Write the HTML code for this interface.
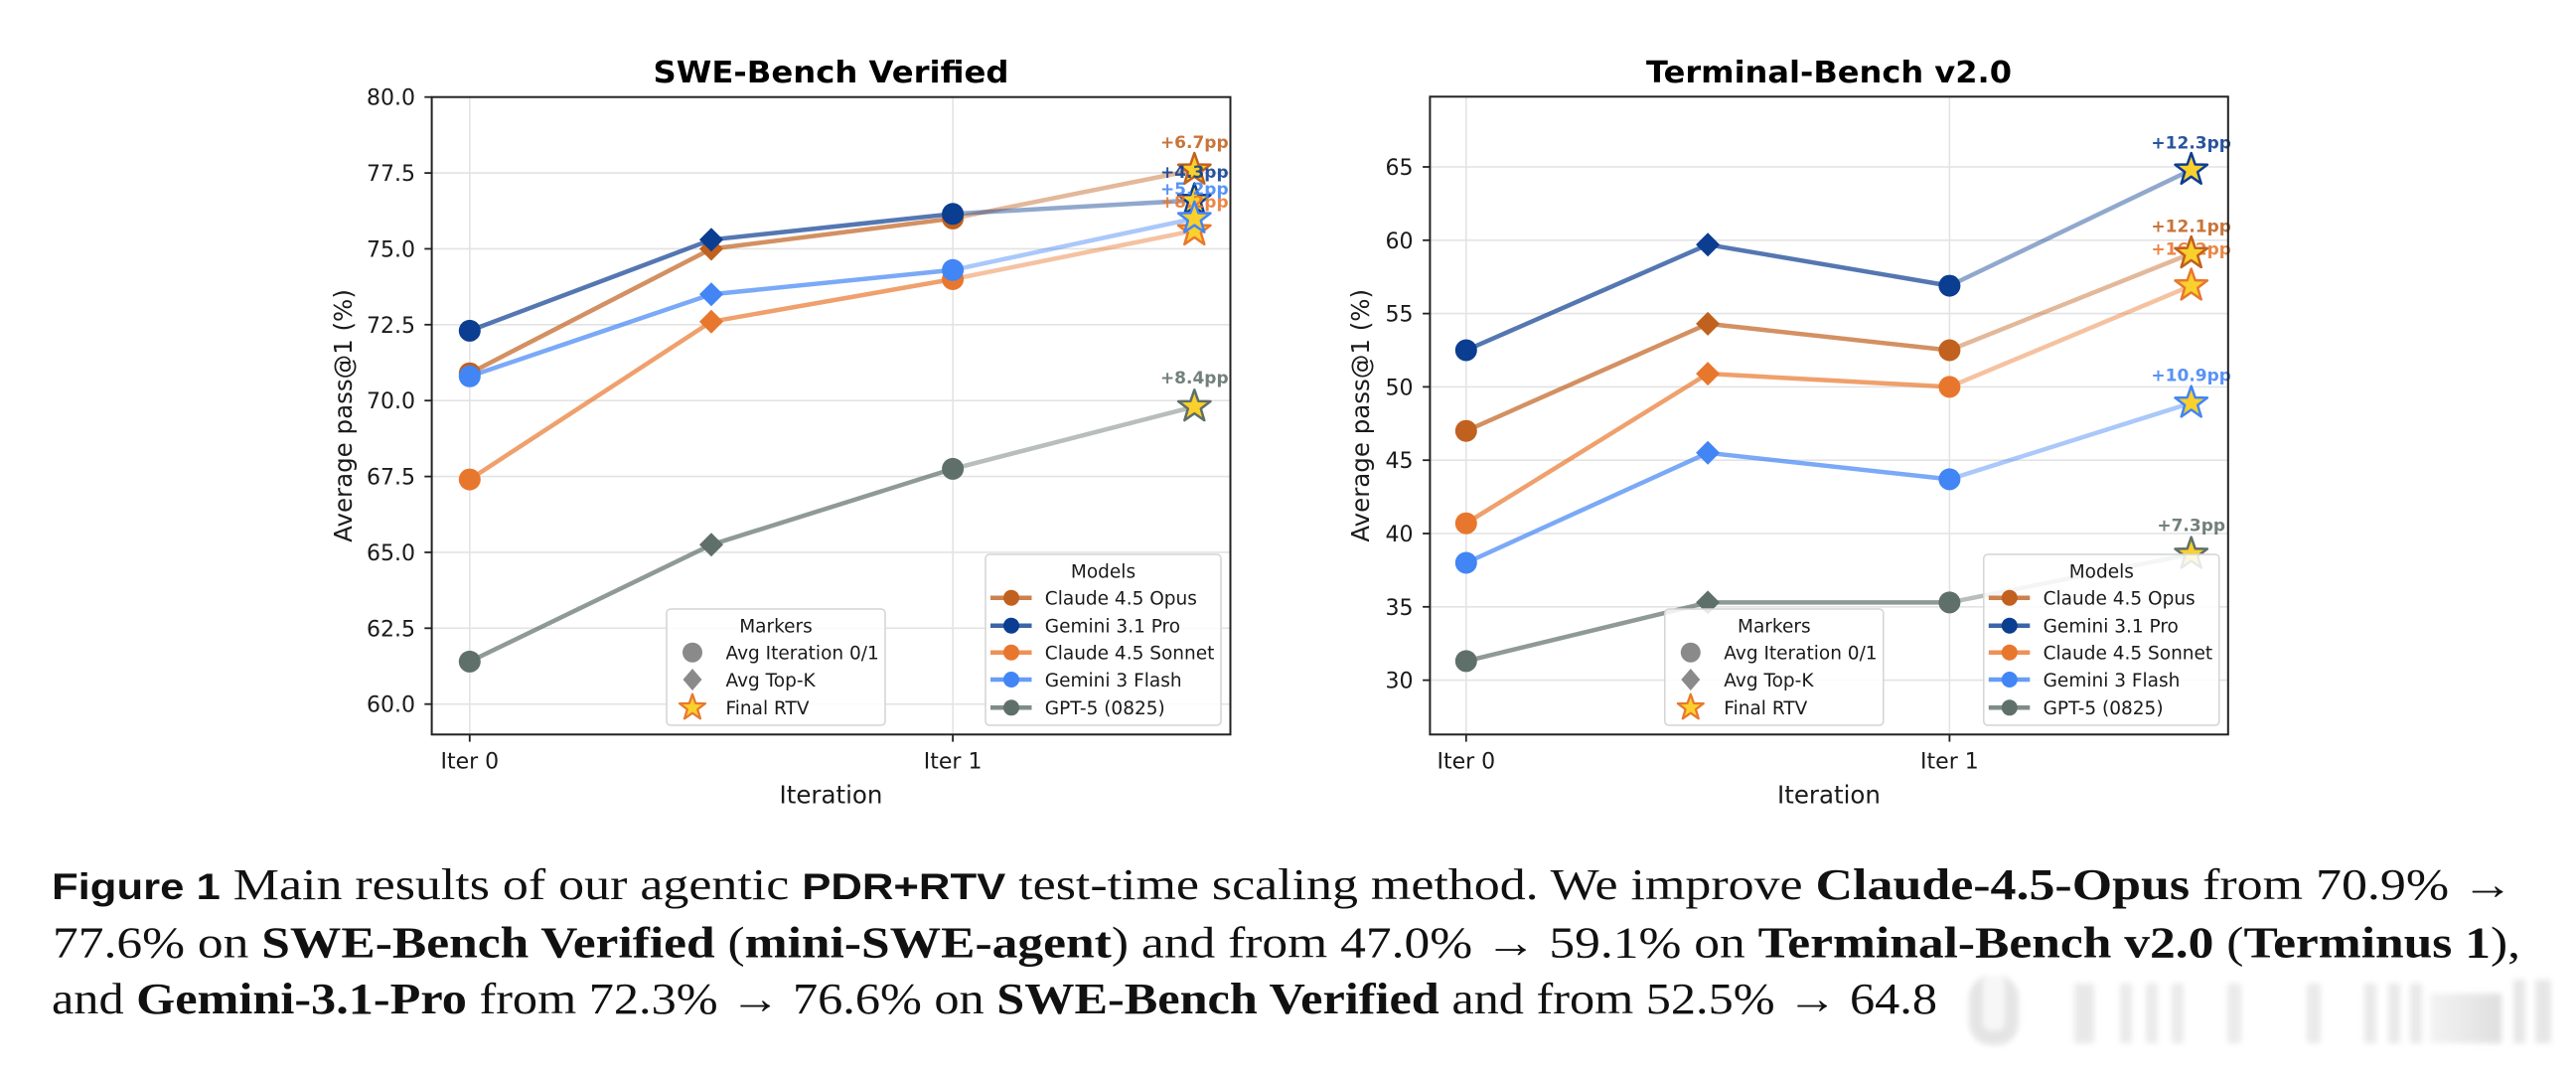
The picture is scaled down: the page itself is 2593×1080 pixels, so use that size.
<!DOCTYPE html>
<html>
<head>
<meta charset="utf-8">
<style>
  html,body{margin:0;padding:0;background:#ffffff;}
  svg{display:block;}
  .tick{font-family:"DejaVu Sans","Liberation Sans",sans-serif;font-size:22px;fill:#1a1a1a;}
  .lab{font-family:"DejaVu Sans","Liberation Sans",sans-serif;font-size:24.5px;fill:#1a1a1a;}
  .ttl{font-family:"DejaVu Sans","Liberation Sans",sans-serif;font-size:30px;font-weight:bold;fill:#000;}
  .leg{font-family:"DejaVu Sans","Liberation Sans",sans-serif;font-size:18.5px;fill:#1a1a1a;}
  .ann{font-family:"DejaVu Sans","Liberation Sans",sans-serif;font-size:17px;font-weight:bold;opacity:.88;}
  .cap{font-family:"Liberation Serif",serif;font-size:44px;fill:#111;}
  .bs{font-family:"Liberation Sans",sans-serif;font-weight:bold;font-size:37px;}
  .bf{font-weight:bold;}
</style>
</head>
<body>
<svg width="2593" height="1080" viewBox="0 0 2593 1080" xmlns="http://www.w3.org/2000/svg">
  <defs>
    <filter id="blur" x="-20%" y="-20%" width="140%" height="140%"><feGaussianBlur stdDeviation="3"/></filter>
    <linearGradient id="gblk" x1="0" x2="1" y1="0" y2="0">
      <stop offset="0" stop-color="#f2f2f2"/><stop offset="1" stop-color="#dcdcdc"/>
    </linearGradient>
  </defs>
  <rect width="2593" height="1080" fill="#ffffff"/>

  <!-- ================= LEFT CHART: SWE-Bench Verified ================= -->
  <g>
    <!-- grid -->
    <g stroke="#e3e3e3" stroke-width="1.6">
      <line x1="434.6" y1="174.1" x2="1238.5" y2="174.1"/>
      <line x1="434.6" y1="250.45" x2="1238.5" y2="250.45"/>
      <line x1="434.6" y1="326.8" x2="1238.5" y2="326.8"/>
      <line x1="434.6" y1="403.2" x2="1238.5" y2="403.2"/>
      <line x1="434.6" y1="479.6" x2="1238.5" y2="479.6"/>
      <line x1="434.6" y1="555.95" x2="1238.5" y2="555.95"/>
      <line x1="434.6" y1="632.3" x2="1238.5" y2="632.3"/>
      <line x1="434.6" y1="708.7" x2="1238.5" y2="708.7"/>
      <line x1="472.8" y1="97.7" x2="472.8" y2="739.3"/>
      <line x1="959.1" y1="97.7" x2="959.1" y2="739.3"/>
    </g>

    <!-- Opus -->
    <g>
      <polyline points="472.8,375.7 716,250.5 959.1,219.9" fill="none" stroke="#C1611F" stroke-width="4.5" stroke-opacity=".7" stroke-linejoin="round"/>
      <line x1="959.1" y1="219.9" x2="1202.3" y2="171.0" stroke="#C1611F" stroke-width="4.5" stroke-opacity=".45"/>
      <circle cx="472.8" cy="375.7" r="11" fill="#C1611F"/>
      <circle cx="959.1" cy="219.9" r="11" fill="#C1611F"/>
      <polygon transform="translate(716,250.5)" points="0,-12 12,0 0,12 -12,0" fill="#C1611F"/>
      <polygon transform="translate(1202.3,171.0)" points="0,-17 4,-5.5 16.17,-5.25 6.47,2.1 9.99,13.75 0,6.8 -9.99,13.75 -6.47,2.1 -16.17,-5.25 -4,-5.5" fill="#FAD02C" stroke="#C1611F" stroke-width="2.5" stroke-linejoin="round"/>
      <text class="ann" x="1202.3" y="149" text-anchor="middle" fill="#C1611F">+6.7pp</text>
    </g>
    <!-- Gemini 3.1 Pro -->
    <g>
      <polyline points="472.8,332.9 716,241.3 959.1,215.3" fill="none" stroke="#0B3D91" stroke-width="4.5" stroke-opacity=".7" stroke-linejoin="round"/>
      <line x1="959.1" y1="215.3" x2="1202.3" y2="201.6" stroke="#0B3D91" stroke-width="4.5" stroke-opacity=".45"/>
      <circle cx="472.8" cy="332.9" r="11" fill="#0B3D91"/>
      <circle cx="959.1" cy="215.3" r="11" fill="#0B3D91"/>
      <polygon transform="translate(716,241.3)" points="0,-12 12,0 0,12 -12,0" fill="#0B3D91"/>
      <polygon transform="translate(1202.3,201.6)" points="0,-17 4,-5.5 16.17,-5.25 6.47,2.1 9.99,13.75 0,6.8 -9.99,13.75 -6.47,2.1 -16.17,-5.25 -4,-5.5" fill="#FAD02C" stroke="#0B3D91" stroke-width="2.5" stroke-linejoin="round"/>
      <text class="ann" x="1202.3" y="179" text-anchor="middle" fill="#0B3D91">+4.3pp</text>
    </g>
    <!-- Sonnet -->
    <g>
      <polyline points="472.8,482.6 716,323.8 959.1,281.0" fill="none" stroke="#E8772E" stroke-width="4.5" stroke-opacity=".7" stroke-linejoin="round"/>
      <line x1="959.1" y1="281.0" x2="1202.3" y2="232.1" stroke="#E8772E" stroke-width="4.5" stroke-opacity=".45"/>
      <circle cx="472.8" cy="482.6" r="11" fill="#E8772E"/>
      <circle cx="959.1" cy="281.0" r="11" fill="#E8772E"/>
      <polygon transform="translate(716,323.8)" points="0,-12 12,0 0,12 -12,0" fill="#E8772E"/>
      <polygon transform="translate(1202.3,232.1)" points="0,-17 4,-5.5 16.17,-5.25 6.47,2.1 9.99,13.75 0,6.8 -9.99,13.75 -6.47,2.1 -16.17,-5.25 -4,-5.5" fill="#FAD02C" stroke="#E8772E" stroke-width="2.5" stroke-linejoin="round"/>
      <text class="ann" x="1202.3" y="209" text-anchor="middle" fill="#E8772E">+8.2pp</text>
    </g>
    <!-- Gemini 3 Flash -->
    <g>
      <polyline points="472.8,378.8 716,296.3 959.1,271.8" fill="none" stroke="#4285F4" stroke-width="4.5" stroke-opacity=".7" stroke-linejoin="round"/>
      <line x1="959.1" y1="271.8" x2="1202.3" y2="219.9" stroke="#4285F4" stroke-width="4.5" stroke-opacity=".45"/>
      <circle cx="472.8" cy="378.8" r="11" fill="#4285F4"/>
      <circle cx="959.1" cy="271.8" r="11" fill="#4285F4"/>
      <polygon transform="translate(716,296.3)" points="0,-12 12,0 0,12 -12,0" fill="#4285F4"/>
      <polygon transform="translate(1202.3,219.9)" points="0,-17 4,-5.5 16.17,-5.25 6.47,2.1 9.99,13.75 0,6.8 -9.99,13.75 -6.47,2.1 -16.17,-5.25 -4,-5.5" fill="#FAD02C" stroke="#4285F4" stroke-width="2.5" stroke-linejoin="round"/>
      <text class="ann" x="1202.3" y="196" text-anchor="middle" fill="#4285F4">+5.2pp</text>
    </g>
    <!-- GPT-5 -->
    <g>
      <polyline points="472.8,665.9 716,548.3 959.1,471.9" fill="none" stroke="#5F6F69" stroke-width="4.5" stroke-opacity=".7" stroke-linejoin="round"/>
      <line x1="959.1" y1="471.9" x2="1202.3" y2="409.3" stroke="#5F6F69" stroke-width="4.5" stroke-opacity=".45"/>
      <circle cx="472.8" cy="665.9" r="11" fill="#5F6F69"/>
      <circle cx="959.1" cy="471.9" r="11" fill="#5F6F69"/>
      <polygon transform="translate(716,548.3)" points="0,-12 12,0 0,12 -12,0" fill="#5F6F69"/>
      <polygon transform="translate(1202.3,409.3)" points="0,-17 4,-5.5 16.17,-5.25 6.47,2.1 9.99,13.75 0,6.8 -9.99,13.75 -6.47,2.1 -16.17,-5.25 -4,-5.5" fill="#FAD02C" stroke="#5F6F69" stroke-width="2.5" stroke-linejoin="round"/>
      <text class="ann" x="1202.3" y="386" text-anchor="middle" fill="#5F6F69">+8.4pp</text>
    </g>

    <!-- Legends -->
    <g>
      <rect x="671" y="613" width="220" height="117" rx="4" fill="#ffffff" fill-opacity=".85" stroke="#d4d4d4" stroke-width="1.5"/>
      <text class="leg" x="781" y="636.5" text-anchor="middle">Markers</text>
      <circle cx="697" cy="656.7" r="10" fill="#8a8a8a"/>
      <text class="leg" x="730.5" y="663.5">Avg Iteration 0/1</text>
      <polygon transform="translate(697,684)" points="0,-11 9.5,0 0,11 -9.5,0" fill="#8a8a8a"/>
      <text class="leg" x="730.5" y="691">Avg Top-K</text>
      <polygon transform="translate(697,712.3) scale(0.8)" points="0,-17 4,-5.5 16.17,-5.25 6.47,2.1 9.99,13.75 0,6.8 -9.99,13.75 -6.47,2.1 -16.17,-5.25 -4,-5.5" fill="#FAD02C" stroke="#E8772E" stroke-width="2.8" stroke-linejoin="round"/>
      <text class="leg" x="730.5" y="719">Final RTV</text>

      <rect x="992" y="558" width="237" height="172" rx="4" fill="#ffffff" fill-opacity=".85" stroke="#d4d4d4" stroke-width="1.5"/>
      <text class="leg" x="1110.5" y="581.5" text-anchor="middle">Models</text>
      <line x1="997" y1="601.7" x2="1038.5" y2="601.7" stroke="#C1611F" stroke-width="4.5" stroke-opacity=".8"/>
      <circle cx="1018" cy="601.7" r="8" fill="#C1611F"/>
      <text class="leg" x="1051.8" y="608.5">Claude 4.5 Opus</text>
      <line x1="997" y1="629.7" x2="1038.5" y2="629.7" stroke="#0B3D91" stroke-width="4.5" stroke-opacity=".8"/>
      <circle cx="1018" cy="629.7" r="8" fill="#0B3D91"/>
      <text class="leg" x="1051.8" y="636.5">Gemini 3.1 Pro</text>
      <line x1="997" y1="656.7" x2="1038.5" y2="656.7" stroke="#E8772E" stroke-width="4.5" stroke-opacity=".8"/>
      <circle cx="1018" cy="656.7" r="8" fill="#E8772E"/>
      <text class="leg" x="1051.8" y="663.5">Claude 4.5 Sonnet</text>
      <line x1="997" y1="684" x2="1038.5" y2="684" stroke="#4285F4" stroke-width="4.5" stroke-opacity=".8"/>
      <circle cx="1018" cy="684" r="8" fill="#4285F4"/>
      <text class="leg" x="1051.8" y="691">Gemini 3 Flash</text>
      <line x1="997" y1="712.3" x2="1038.5" y2="712.3" stroke="#5F6F69" stroke-width="4.5" stroke-opacity=".8"/>
      <circle cx="1018" cy="712.3" r="8" fill="#5F6F69"/>
      <text class="leg" x="1051.8" y="719">GPT-5 (0825)</text>
    </g>

    <!-- spines -->
    <rect x="434.6" y="97.7" width="803.9" height="641.6" fill="none" stroke="#222" stroke-width="2"/>
    <!-- ticks -->
    <g stroke="#222" stroke-width="1.8">
      <line x1="427.3" y1="97.7" x2="434.6" y2="97.7"/>
      <line x1="427.3" y1="174.1" x2="434.6" y2="174.1"/>
      <line x1="427.3" y1="250.45" x2="434.6" y2="250.45"/>
      <line x1="427.3" y1="326.8" x2="434.6" y2="326.8"/>
      <line x1="427.3" y1="403.2" x2="434.6" y2="403.2"/>
      <line x1="427.3" y1="479.6" x2="434.6" y2="479.6"/>
      <line x1="427.3" y1="555.95" x2="434.6" y2="555.95"/>
      <line x1="427.3" y1="632.3" x2="434.6" y2="632.3"/>
      <line x1="427.3" y1="708.7" x2="434.6" y2="708.7"/>
      <line x1="472.8" y1="739.3" x2="472.8" y2="746.6"/>
      <line x1="959.1" y1="739.3" x2="959.1" y2="746.6"/>
    </g>
    <g class="tick" text-anchor="end">
      <text x="418" y="105.7">80.0</text>
      <text x="418" y="182.1">77.5</text>
      <text x="418" y="258.45">75.0</text>
      <text x="418" y="334.8">72.5</text>
      <text x="418" y="411.2">70.0</text>
      <text x="418" y="487.6">67.5</text>
      <text x="418" y="563.95">65.0</text>
      <text x="418" y="640.3">62.5</text>
      <text x="418" y="716.7">60.0</text>
    </g>
    <g class="tick" text-anchor="middle">
      <text x="472.8" y="773.3">Iter 0</text>
      <text x="959.1" y="773.3">Iter 1</text>
    </g>
    <text class="lab" x="836.5" y="808.3" text-anchor="middle">Iteration</text>
    <text class="lab" transform="translate(354,418.5) rotate(-90)" text-anchor="middle">Average pass@1 (%)</text>
    <text class="ttl" x="836.5" y="83" text-anchor="middle" textLength="358" lengthAdjust="spacingAndGlyphs">SWE-Bench Verified</text>
  </g>

  <!-- ================= RIGHT CHART: Terminal-Bench v2.0 ================= -->
  <g>
    <g stroke="#e3e3e3" stroke-width="1.6">
      <line x1="1439.4" y1="168" x2="2242.8" y2="168"/>
      <line x1="1439.4" y1="241.8" x2="2242.8" y2="241.8"/>
      <line x1="1439.4" y1="315.6" x2="2242.8" y2="315.6"/>
      <line x1="1439.4" y1="389.4" x2="2242.8" y2="389.4"/>
      <line x1="1439.4" y1="463.2" x2="2242.8" y2="463.2"/>
      <line x1="1439.4" y1="537" x2="2242.8" y2="537"/>
      <line x1="1439.4" y1="610.8" x2="2242.8" y2="610.8"/>
      <line x1="1439.4" y1="684.6" x2="2242.8" y2="684.6"/>
      <line x1="1475.8" y1="97.3" x2="1475.8" y2="739.3"/>
      <line x1="1962.4" y1="97.3" x2="1962.4" y2="739.3"/>
    </g>

    <!-- Opus -->
    <g>
      <polyline points="1475.8,433.7 1719.1,325.9 1962.4,352.5" fill="none" stroke="#C1611F" stroke-width="4.5" stroke-opacity=".7" stroke-linejoin="round"/>
      <line x1="1962.4" y1="352.5" x2="2205.7" y2="255.1" stroke="#C1611F" stroke-width="4.5" stroke-opacity=".45"/>
      <circle cx="1475.8" cy="433.7" r="11" fill="#C1611F"/>
      <circle cx="1962.4" cy="352.5" r="11" fill="#C1611F"/>
      <polygon transform="translate(1719.1,325.9)" points="0,-12 12,0 0,12 -12,0" fill="#C1611F"/>
      <polygon transform="translate(2205.7,255.1)" points="0,-17 4,-5.5 16.17,-5.25 6.47,2.1 9.99,13.75 0,6.8 -9.99,13.75 -6.47,2.1 -16.17,-5.25 -4,-5.5" fill="#FAD02C" stroke="#C1611F" stroke-width="2.5" stroke-linejoin="round"/>
      <text class="ann" x="2205.7" y="233.3" text-anchor="middle" fill="#C1611F">+12.1pp</text>
    </g>
    <!-- Pro -->
    <g>
      <polyline points="1475.8,352.5 1719.1,246.2 1962.4,287.6" fill="none" stroke="#0B3D91" stroke-width="4.5" stroke-opacity=".7" stroke-linejoin="round"/>
      <line x1="1962.4" y1="287.6" x2="2205.7" y2="171.0" stroke="#0B3D91" stroke-width="4.5" stroke-opacity=".45"/>
      <circle cx="1475.8" cy="352.5" r="11" fill="#0B3D91"/>
      <circle cx="1962.4" cy="287.6" r="11" fill="#0B3D91"/>
      <polygon transform="translate(1719.1,246.2)" points="0,-12 12,0 0,12 -12,0" fill="#0B3D91"/>
      <polygon transform="translate(2205.7,171.0)" points="0,-17 4,-5.5 16.17,-5.25 6.47,2.1 9.99,13.75 0,6.8 -9.99,13.75 -6.47,2.1 -16.17,-5.25 -4,-5.5" fill="#FAD02C" stroke="#0B3D91" stroke-width="2.5" stroke-linejoin="round"/>
      <text class="ann" x="2205.7" y="149.3" text-anchor="middle" fill="#0B3D91">+12.3pp</text>
    </g>
    <!-- Sonnet -->
    <g>
      <polyline points="1475.8,526.7 1719.1,376.1 1962.4,389.4" fill="none" stroke="#E8772E" stroke-width="4.5" stroke-opacity=".7" stroke-linejoin="round"/>
      <line x1="1962.4" y1="389.4" x2="2205.7" y2="287.6" stroke="#E8772E" stroke-width="4.5" stroke-opacity=".45"/>
      <circle cx="1475.8" cy="526.7" r="11" fill="#E8772E"/>
      <circle cx="1962.4" cy="389.4" r="11" fill="#E8772E"/>
      <polygon transform="translate(1719.1,376.1)" points="0,-12 12,0 0,12 -12,0" fill="#E8772E"/>
      <text class="ann" x="2205.7" y="256.7" text-anchor="middle" fill="#E8772E">+16.2pp</text>
      <polygon transform="translate(2205.7,287.6)" points="0,-17 4,-5.5 16.17,-5.25 6.47,2.1 9.99,13.75 0,6.8 -9.99,13.75 -6.47,2.1 -16.17,-5.25 -4,-5.5" fill="#FAD02C" stroke="#E8772E" stroke-width="2.5" stroke-linejoin="round"/>
    </g>
    <!-- Opus star redrawn on top of Sonnet label -->
    <polygon transform="translate(2205.7,255.1)" points="0,-17 4,-5.5 16.17,-5.25 6.47,2.1 9.99,13.75 0,6.8 -9.99,13.75 -6.47,2.1 -16.17,-5.25 -4,-5.5" fill="#FAD02C" stroke="#C1611F" stroke-width="2.5" stroke-linejoin="round"/>
    <!-- Flash -->
    <g>
      <polyline points="1475.8,566.5 1719.1,455.8 1962.4,482.4" fill="none" stroke="#4285F4" stroke-width="4.5" stroke-opacity=".7" stroke-linejoin="round"/>
      <line x1="1962.4" y1="482.4" x2="2205.7" y2="405.6" stroke="#4285F4" stroke-width="4.5" stroke-opacity=".45"/>
      <circle cx="1475.8" cy="566.5" r="11" fill="#4285F4"/>
      <circle cx="1962.4" cy="482.4" r="11" fill="#4285F4"/>
      <polygon transform="translate(1719.1,455.8)" points="0,-12 12,0 0,12 -12,0" fill="#4285F4"/>
      <polygon transform="translate(2205.7,405.6)" points="0,-17 4,-5.5 16.17,-5.25 6.47,2.1 9.99,13.75 0,6.8 -9.99,13.75 -6.47,2.1 -16.17,-5.25 -4,-5.5" fill="#FAD02C" stroke="#4285F4" stroke-width="2.5" stroke-linejoin="round"/>
      <text class="ann" x="2205.7" y="383.3" text-anchor="middle" fill="#4285F4">+10.9pp</text>
    </g>
    <!-- GPT-5 -->
    <g>
      <polyline points="1475.8,665.4 1719.1,606.4 1962.4,606.4" fill="none" stroke="#5F6F69" stroke-width="4.5" stroke-opacity=".7" stroke-linejoin="round"/>
      <line x1="1962.4" y1="606.4" x2="2205.7" y2="557.7" stroke="#5F6F69" stroke-width="4.5" stroke-opacity=".45"/>
      <circle cx="1475.8" cy="665.4" r="11" fill="#5F6F69"/>
      <circle cx="1962.4" cy="606.4" r="11" fill="#5F6F69"/>
      <polygon transform="translate(1719.1,606.4)" points="0,-12 12,0 0,12 -12,0" fill="#5F6F69"/>
      <polygon transform="translate(2205.7,557.7)" points="0,-17 4,-5.5 16.17,-5.25 6.47,2.1 9.99,13.75 0,6.8 -9.99,13.75 -6.47,2.1 -16.17,-5.25 -4,-5.5" fill="#FAD02C" stroke="#5F6F69" stroke-width="2.5" stroke-linejoin="round"/>
      <text class="ann" x="2205.7" y="534.3" text-anchor="middle" fill="#5F6F69">+7.3pp</text>
    </g>

    <!-- Legends -->
    <g transform="translate(1004.8,0)">
      <rect x="671" y="613" width="220" height="117" rx="4" fill="#ffffff" fill-opacity=".85" stroke="#d4d4d4" stroke-width="1.5"/>
      <text class="leg" x="781" y="636.5" text-anchor="middle">Markers</text>
      <circle cx="697" cy="656.7" r="10" fill="#8a8a8a"/>
      <text class="leg" x="730.5" y="663.5">Avg Iteration 0/1</text>
      <polygon transform="translate(697,684)" points="0,-11 9.5,0 0,11 -9.5,0" fill="#8a8a8a"/>
      <text class="leg" x="730.5" y="691">Avg Top-K</text>
      <polygon transform="translate(697,712.3) scale(0.8)" points="0,-17 4,-5.5 16.17,-5.25 6.47,2.1 9.99,13.75 0,6.8 -9.99,13.75 -6.47,2.1 -16.17,-5.25 -4,-5.5" fill="#FAD02C" stroke="#E8772E" stroke-width="2.8" stroke-linejoin="round"/>
      <text class="leg" x="730.5" y="719">Final RTV</text>

      <rect x="992" y="558" width="237" height="172" rx="4" fill="#ffffff" fill-opacity=".85" stroke="#d4d4d4" stroke-width="1.5"/>
      <text class="leg" x="1110.5" y="581.5" text-anchor="middle">Models</text>
      <line x1="997" y1="601.7" x2="1038.5" y2="601.7" stroke="#C1611F" stroke-width="4.5" stroke-opacity=".8"/>
      <circle cx="1018" cy="601.7" r="8" fill="#C1611F"/>
      <text class="leg" x="1051.8" y="608.5">Claude 4.5 Opus</text>
      <line x1="997" y1="629.7" x2="1038.5" y2="629.7" stroke="#0B3D91" stroke-width="4.5" stroke-opacity=".8"/>
      <circle cx="1018" cy="629.7" r="8" fill="#0B3D91"/>
      <text class="leg" x="1051.8" y="636.5">Gemini 3.1 Pro</text>
      <line x1="997" y1="656.7" x2="1038.5" y2="656.7" stroke="#E8772E" stroke-width="4.5" stroke-opacity=".8"/>
      <circle cx="1018" cy="656.7" r="8" fill="#E8772E"/>
      <text class="leg" x="1051.8" y="663.5">Claude 4.5 Sonnet</text>
      <line x1="997" y1="684" x2="1038.5" y2="684" stroke="#4285F4" stroke-width="4.5" stroke-opacity=".8"/>
      <circle cx="1018" cy="684" r="8" fill="#4285F4"/>
      <text class="leg" x="1051.8" y="691">Gemini 3 Flash</text>
      <line x1="997" y1="712.3" x2="1038.5" y2="712.3" stroke="#5F6F69" stroke-width="4.5" stroke-opacity=".8"/>
      <circle cx="1018" cy="712.3" r="8" fill="#5F6F69"/>
      <text class="leg" x="1051.8" y="719">GPT-5 (0825)</text>
    </g>

    <rect x="1439.4" y="97.3" width="803.4" height="642" fill="none" stroke="#222" stroke-width="2"/>
    <g stroke="#222" stroke-width="1.8">
      <line x1="1432.1" y1="168" x2="1439.4" y2="168"/>
      <line x1="1432.1" y1="241.8" x2="1439.4" y2="241.8"/>
      <line x1="1432.1" y1="315.6" x2="1439.4" y2="315.6"/>
      <line x1="1432.1" y1="389.4" x2="1439.4" y2="389.4"/>
      <line x1="1432.1" y1="463.2" x2="1439.4" y2="463.2"/>
      <line x1="1432.1" y1="537" x2="1439.4" y2="537"/>
      <line x1="1432.1" y1="610.8" x2="1439.4" y2="610.8"/>
      <line x1="1432.1" y1="684.6" x2="1439.4" y2="684.6"/>
      <line x1="1475.8" y1="739.3" x2="1475.8" y2="746.6"/>
      <line x1="1962.4" y1="739.3" x2="1962.4" y2="746.6"/>
    </g>
    <g class="tick" text-anchor="end">
      <text x="1422.5" y="176">65</text>
      <text x="1422.5" y="249.8">60</text>
      <text x="1422.5" y="323.6">55</text>
      <text x="1422.5" y="397.4">50</text>
      <text x="1422.5" y="471.2">45</text>
      <text x="1422.5" y="545">40</text>
      <text x="1422.5" y="618.8">35</text>
      <text x="1422.5" y="692.6">30</text>
    </g>
    <g class="tick" text-anchor="middle">
      <text x="1475.8" y="773.3">Iter 0</text>
      <text x="1962.4" y="773.3">Iter 1</text>
    </g>
    <text class="lab" x="1841" y="808.3" text-anchor="middle">Iteration</text>
    <text class="lab" transform="translate(1378,418.3) rotate(-90)" text-anchor="middle">Average pass@1 (%)</text>
    <text class="ttl" x="1841" y="83" text-anchor="middle" textLength="368" lengthAdjust="spacingAndGlyphs">Terminal-Bench v2.0</text>
  </g>

  <!-- ================= CAPTION ================= -->
  <text class="cap" x="52" y="905" textLength="2478" lengthAdjust="spacingAndGlyphs"><tspan class="bs">Figure 1</tspan>  Main results of our agentic <tspan class="bs">PDR+RTV</tspan> test-time scaling method. We improve <tspan class="bf">Claude-4.5-Opus</tspan> from 70.9% →</text>
  <text class="cap" x="53" y="963.3" textLength="2484" lengthAdjust="spacingAndGlyphs">77.6% on <tspan class="bf">SWE-Bench Verified</tspan> (<tspan class="bf">mini-SWE-agent</tspan>) and from 47.0% → 59.1% on <tspan class="bf">Terminal-Bench v2.0</tspan> (<tspan class="bf">Terminus 1</tspan>),</text>
  <text class="cap" x="52" y="1020" textLength="1898" lengthAdjust="spacingAndGlyphs">and <tspan class="bf">Gemini-3.1-Pro</tspan> from 72.3% → 76.6% on <tspan class="bf">SWE-Bench Verified</tspan> and from 52.5% → 64.8</text>

  <!-- faint blurred overlay at bottom right -->
  <g filter="url(#blur)" opacity=".9">
    <rect x="1982" y="982" width="50" height="70" rx="22" fill="#e2e2e2"/>
    <rect x="1996" y="982" width="22" height="55" rx="8" fill="#f7f7f7"/>
    <rect x="2088" y="990" width="20" height="60" fill="#e6e6e6"/>
    <rect x="2134" y="990" width="12" height="60" fill="#e8e8e8"/>
    <rect x="2160" y="990" width="12" height="60" fill="#e8e8e8"/>
    <rect x="2186" y="990" width="12" height="60" fill="#e8e8e8"/>
    <rect x="2242" y="990" width="14" height="60" fill="#e8e8e8"/>
    <rect x="2322" y="990" width="14" height="60" fill="#e8e8e8"/>
    <rect x="2380" y="990" width="12" height="60" fill="#e6e6e6"/>
    <rect x="2404" y="990" width="12" height="60" fill="#e6e6e6"/>
    <rect x="2426" y="990" width="12" height="60" fill="#e6e6e6"/>
    <rect x="2446" y="1000" width="72" height="50" fill="url(#gblk)"/>
    <rect x="2530" y="986" width="12" height="64" fill="#e4e4e4"/>
    <rect x="2552" y="986" width="16" height="64" fill="#e4e4e4"/>
  </g>
</svg>
</body>
</html>
